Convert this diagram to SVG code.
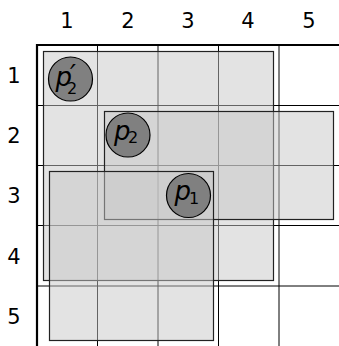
<svg xmlns="http://www.w3.org/2000/svg" width="339" height="346" viewBox="0 0 339 346">
<style>
.lbl{font-family:"DejaVu Sans","Liberation Sans",sans-serif;font-size:21px;fill:#000;text-anchor:middle}
.grid{stroke:#000;stroke-width:1;fill:none}
.rect{fill:#c8c8c8;fill-opacity:0.5;stroke:#222;stroke-width:1.2}
.pt{fill:#808080;stroke:#000;stroke-width:1.2}
.pl{font-family:"DejaVu Sans","Liberation Sans",sans-serif;font-style:oblique;font-size:26px;fill:#000}
.sub{font-family:"DejaVu Sans","Liberation Sans",sans-serif;font-size:16px;fill:#000}
.prm{font-family:"DejaVu Sans","Liberation Sans",sans-serif;font-style:oblique;font-size:26px;fill:#000}
</style>
<rect width="339" height="346" fill="#fff"/>
<g id="labels">
<text class="lbl" x="67" y="28">1</text>
<text class="lbl" x="128" y="28">2</text>
<text class="lbl" x="188" y="28">3</text>
<text class="lbl" x="248" y="28">4</text>
<text class="lbl" x="309" y="28">5</text>
<text class="lbl" x="14" y="83">1</text>
<text class="lbl" x="14" y="143">2</text>
<text class="lbl" x="14" y="203">3</text>
<text class="lbl" x="14" y="264">4</text>
<text class="lbl" x="14" y="324">5</text>
</g>
<g id="grid">
<path class="grid" d="M37.5 105.5H339M37.5 165.5H339M37.5 225.5H339M37.5 286H339M97.5 45V346M158 45V346M218.5 45V346M279 45V346"/>
<path stroke="#000" stroke-width="2.2" fill="none" d="M37 346V45H339"/>
</g>
<g id="rectA"><rect class="rect" x="43.5" y="51.5" width="230" height="229"/></g>
<g id="rectB"><rect class="rect" x="104.5" y="111.5" width="229" height="108"/></g>
<g id="rectC"><rect class="rect" x="49.5" y="171.5" width="164" height="169"/></g>
<g id="p2prime">
<circle class="pt" cx="70.5" cy="79" r="22"/>
<text class="pl" x="55.5" y="86">p</text>
<text class="prm" x="70" y="84">′</text>
<text class="sub" x="67" y="93.5">2</text>
</g>
<g id="p2">
<circle class="pt" cx="128" cy="135" r="22"/>
<text class="pl" x="114" y="139.5">p</text>
<text class="sub" x="128" y="142.5">2</text>
</g>
<g id="p1">
<circle class="pt" cx="188.5" cy="195.5" r="22"/>
<text class="pl" x="174.5" y="200">p</text>
<text class="sub" x="189" y="204">1</text>
</g>
</svg>
